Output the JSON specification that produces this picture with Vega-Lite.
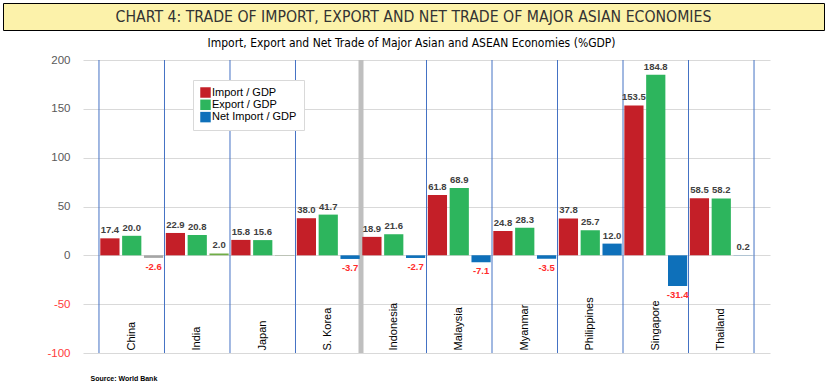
{
  "$schema": "https://vega.github.io/schema/vega-lite/v6.json",
  "padding": {"left": 2, "top": 2, "right": 0, "bottom": 0},
  "background": "white",
  "config": {
    "font": "Liberation Sans",
    "view": {"stroke": null},
    "locale": {"number": {"decimal": ".", "thousands": ",", "grouping": [3], "currency": ["$", ""], "minus": "-"}}
  },
  "spacing": 6,
  "resolve": {"legend": {"color": "independent"}},
  "datasets": {
    "trade": [
      {"country": "China", "series": "Import / GDP", "value": 17.4},
      {"country": "China", "series": "Export / GDP", "value": 20.0},
      {"country": "China", "series": "Net Import / GDP", "value": -2.6},
      {"country": "India", "series": "Import / GDP", "value": 22.9},
      {"country": "India", "series": "Export / GDP", "value": 20.8},
      {"country": "India", "series": "Net Import / GDP", "value": 2.0},
      {"country": "Japan", "series": "Import / GDP", "value": 15.8},
      {"country": "Japan", "series": "Export / GDP", "value": 15.6},
      {"country": "Japan", "series": "Net Import / GDP", "value": 0.2},
      {"country": "S. Korea", "series": "Import / GDP", "value": 38.0},
      {"country": "S. Korea", "series": "Export / GDP", "value": 41.7},
      {"country": "S. Korea", "series": "Net Import / GDP", "value": -3.7},
      {"country": "Indonesia", "series": "Import / GDP", "value": 18.9},
      {"country": "Indonesia", "series": "Export / GDP", "value": 21.6},
      {"country": "Indonesia", "series": "Net Import / GDP", "value": -2.7},
      {"country": "Malaysia", "series": "Import / GDP", "value": 61.8},
      {"country": "Malaysia", "series": "Export / GDP", "value": 68.9},
      {"country": "Malaysia", "series": "Net Import / GDP", "value": -7.1},
      {"country": "Myanmar", "series": "Import / GDP", "value": 24.8},
      {"country": "Myanmar", "series": "Export / GDP", "value": 28.3},
      {"country": "Myanmar", "series": "Net Import / GDP", "value": -3.5},
      {"country": "Philippines", "series": "Import / GDP", "value": 37.8},
      {"country": "Philippines", "series": "Export / GDP", "value": 25.7},
      {"country": "Philippines", "series": "Net Import / GDP", "value": 12.0},
      {"country": "Singapore", "series": "Import / GDP", "value": 153.5},
      {"country": "Singapore", "series": "Export / GDP", "value": 184.8},
      {"country": "Singapore", "series": "Net Import / GDP", "value": -31.4},
      {"country": "Thailand", "series": "Import / GDP", "value": 58.5},
      {"country": "Thailand", "series": "Export / GDP", "value": 58.2},
      {"country": "Thailand", "series": "Net Import / GDP", "value": 0.2}
    ],
    "header": [
      {"title": "CHART 4: TRADE OF IMPORT, EXPORT AND NET TRADE OF MAJOR ASIAN ECONOMIES"}
    ],
    "empty": []
  },
  "vconcat": [
    {
      "width": 821,
      "height": 27,
      "view": {"fill": "#FCF2AA", "stroke": "#000000", "strokeWidth": 1},
      "data": {"name": "header"},
      "mark": {"type": "text", "font": "Liberation Sans Narrow, DejaVu Sans Condensed, sans-serif", "fontSize": 15.7, "color": "#333333"},
      "encoding": {"text": {"field": "title", "type": "nominal"}}
    },
    {
      "spacing": 0,
      "resolve": {"legend": {"color": "independent"}},
      "hconcat": [
        {
          "width": 1,
          "height": 1,
          "data": {"name": "empty"},
          "mark": {"type": "point"},
          "encoding": {}
        },
        {
          "width": 687,
          "height": 293,
          "title": {
            "text": "Import, Export and Net Trade of Major Asian and ASEAN Economies (%GDP)",
            "font": "Liberation Sans Narrow, DejaVu Sans Condensed, sans-serif",
            "fontSize": 12,
            "fontWeight": "normal",
            "color": "#000000",
            "anchor": "middle",
            "dx": -15,
            "offset": 4
          },
          "data": {"name": "trade"},
          "encoding": {
            "x": {
              "field": "country",
              "type": "nominal",
              "sort": ["China", "India", "Japan", "S. Korea", "Indonesia", "Malaysia", "Myanmar", "Philippines", "Singapore", "Thailand"],
              "scale": {"paddingInner": 0, "paddingOuter": 0.244},
              "axis": {
                "orient": "bottom",
                "domain": false,
                "ticks": false,
                "grid": false,
                "labelAngle": -90,
                "labelAlign": "left",
                "labelBaseline": "middle",
                "labelPadding": -3,
                "labelFontSize": 11,
                "labelColor": "#000000",
                "title": "Source: World Bank",
                "titleFontSize": 7,
                "titleFontWeight": "bold",
                "titleColor": "#000000",
                "titleAnchor": "start",
                "titleAlign": "left",
                "titleBaseline": "middle",
                "titleX": 7,
                "titleY": 25
              }
            }
          },
          "layer": [
            {
              "transform": [{"filter": "datum.series === 'Import / GDP'"}],
              "mark": {"type": "rule"},
              "encoding": {
                "x": {"field": "country", "type": "nominal", "bandPosition": 0, "sort": ["China", "India", "Japan", "S. Korea", "Indonesia", "Malaysia", "Myanmar", "Philippines", "Singapore", "Thailand"]},
                "color": {"condition": {"test": "datum.country === 'Indonesia'", "value": "#BFBFBF"}, "value": "#4472C4"},
                "strokeWidth": {"condition": {"test": "datum.country === 'Indonesia'", "value": 5}, "value": 1}
              }
            },
            {
              "transform": [{"filter": "datum.series === 'Import / GDP' && datum.country === 'Thailand'"}],
              "mark": {"type": "rule", "color": "#4472C4", "strokeWidth": 1},
              "encoding": {
                "x": {"field": "country", "type": "nominal", "bandPosition": 1, "sort": ["China", "India", "Japan", "S. Korea", "Indonesia", "Malaysia", "Myanmar", "Philippines", "Singapore", "Thailand"]}
              }
            },
            {
              "mark": {"type": "bar"},
              "encoding": {
                "xOffset": {"field": "series", "type": "nominal", "sort": ["Import / GDP", "Export / GDP", "Net Import / GDP"], "scale": {"paddingInner": 0.12, "paddingOuter": 0.06}},
                "y": {
                  "field": "value",
                  "type": "quantitative",
                  "scale": {"domain": [-100, 200], "nice": false},
                  "axis": {
                    "title": null,
                    "values": [-100, -50, 0, 50, 100, 150, 200],
                    "domain": false,
                    "ticks": false,
                    "labelPadding": 13,
                    "minExtent": 79,
                    "labelFontSize": 11.5,
                    "labelColor": {"condition": {"test": "datum.value < 0", "value": "#FF3B3B"}, "value": "#595959"},
                    "gridColor": "#D9D9D9",
                    "gridWidth": 1
                  }
                },
                "color": {
                  "condition": [
                    {"test": "datum.series === 'Net Import / GDP' && datum.country === 'China'", "value": "#A5A5A5"},
                    {"test": "datum.series === 'Net Import / GDP' && datum.country === 'India'", "value": "#70AD47"},
                    {"test": "datum.series === 'Net Import / GDP' && datum.country === 'Japan'", "value": "#43682B"}
                  ],
                  "field": "series",
                  "type": "nominal",
                  "sort": ["Import / GDP", "Export / GDP", "Net Import / GDP"],
                  "scale": {"domain": ["Import / GDP", "Export / GDP", "Net Import / GDP"], "range": ["#C41F28", "#2DB55D", "#0E70BA"]},
                  "legend": {
                    "title": null,
                    "orient": "none",
                    "legendX": 110,
                    "legendY": 20,
                    "direction": "vertical",
                    "fillColor": "#FFFFFF",
                    "strokeColor": "#D9D9D9",
                    "padding": 7,
                    "symbolType": "square",
                    "symbolSize": 110,
                    "symbolStrokeWidth": 0,
                    "symbolOpacity": 1,
                    "labelFontSize": 11,
                    "labelColor": "#000000",
                    "labelOffset": 1,
                    "rowPadding": 0.3,
                    "labelLimit": 200
                  }
                }
              }
            },
            {
              "transform": [{"filter": "datum.value >= 0 && !(datum.country === 'Japan' && datum.series === 'Net Import / GDP')"}],
              "mark": {"type": "text", "baseline": "bottom", "dy": -3, "fontSize": 9.5, "fontWeight": "bold", "color": "#404040"},
              "encoding": {
                "xOffset": {"field": "series", "type": "nominal", "sort": ["Import / GDP", "Export / GDP", "Net Import / GDP"], "scale": {"paddingInner": 0.12, "paddingOuter": 0.06}},
                "y": {"field": "value", "type": "quantitative"},
                "text": {"field": "value", "type": "quantitative", "format": ".1f"}
              }
            },
            {
              "transform": [{"filter": "datum.value < 0"}],
              "mark": {"type": "text", "baseline": "top", "dy": 4, "fontSize": 9.5, "fontWeight": "bold", "color": "#FF2B2B"},
              "encoding": {
                "xOffset": {"field": "series", "type": "nominal", "sort": ["Import / GDP", "Export / GDP", "Net Import / GDP"], "scale": {"paddingInner": 0.12, "paddingOuter": 0.06}},
                "y": {"field": "value", "type": "quantitative"},
                "text": {"field": "value", "type": "quantitative", "format": ".1f"}
              }
            }
          ]
        }
      ]
    }
  ]
}
